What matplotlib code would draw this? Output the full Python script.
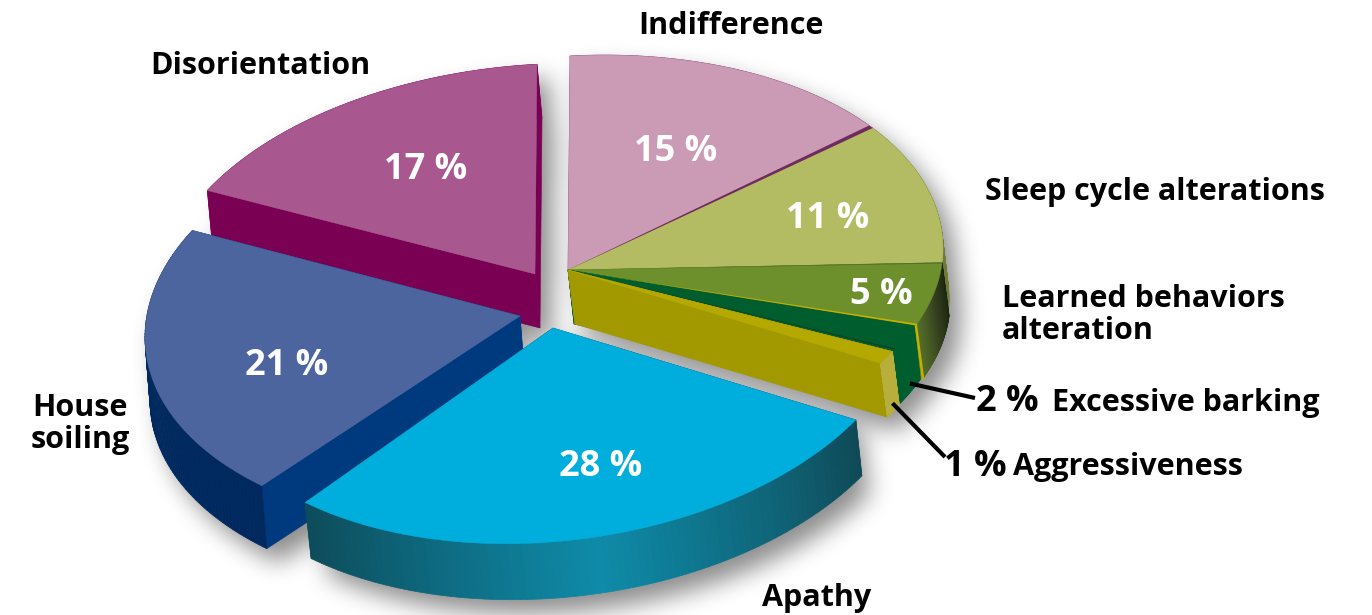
import numpy as np
import matplotlib
matplotlib.use("Agg")
import matplotlib.pyplot as plt
from matplotlib.colors import to_rgb
from matplotlib.patches import Polygon
from matplotlib.path import Path

# share of each sign, clockwise from the top
categories = ["Indifference", "Sleep cycle alterations", "Learned behaviors\nalteration",
              "Excessive barking", "Aggressiveness", "Apathy", "House\nsoiling", "Disorientation"]
shares = [15, 11, 5, 2, 1, 28, 21, 17]

top_colors = ["#CB9AB4", "#B3BC62", "#6D8F2C", "#005E2E", "#B5A800", "#00AEDD", "#4C659F", "#A9578F"]
face_colors = ["#6F2B5F", "#7F8A3E", "#5B7A2C", "#005E2E", "#A29800", "#0E4D5C", "#003A7E", "#7A0054"]
wall_colors = [["#6F2B5F"], ["#6E7A35"], ["#1C2410", "#343F1E", "#55702A"], ["#005E2E"], ["#B8AE3C"],
               ["#0F4A57", "#0E8BA9", "#0D4C5A"], ["#00295F"], ["#7A0054"]]

# projection of the pie: unit vectors for 90 and 0 degrees
U = np.array([375.0, -20.0])
V = np.array([2.0, -214.0])
apex = [(568, 270), (568, 270), (568, 270), (568, 270), (568, 270), (553, 328), (520, 316), (535, 274)]
x_scale = [1, 1, 1, 0.995, 0.99, 0.96, 1, 1]
y_scale = [1, 1, 0.94, 0.94, 0.96, 1, 1, 0.98]
u_tilt = [0, 0, 0, 0, 0, -7, 0, 0]
depth = [(6, 52), (6, 50), (7, 53), (6, 54), (7, 54), (6, 56), (5, 63), (5, 54)]

label_pos = [(731, 26), (1155, 192), (1002, 315), (1052, 403), (1013, 467), (817, 598), (80, 424), (260, 66)]
pct_pos = [(676, 152), (828, 219), (881, 295), (1007, 402), (975, 467), (601, 467), (287, 366), (426, 170)]
left_aligned = ["Learned behaviors\nalteration", "Excessive barking", "Aggressiveness"]

FONT = "Open Sans"
fig = plt.figure(figsize=(13.72, 6.15), dpi=100)
ax = fig.add_axes([0, 0, 1, 1])
ax.set_xlim(0, 1372)
ax.set_ylim(615, 0)
ax.axis("off")

bounds = np.concatenate([[0], np.cumsum(shares)]) * 3.6


def rim(i, theta):
    t = np.radians(theta)
    u = U * [x_scale[i], 1] + [0, u_tilt[i]]
    v = V * [1, y_scale[i]]
    return np.array(apex[i]) + np.outer(np.sin(t), u) + np.outer(np.cos(t), v)


def wedge(i):
    thetas = np.linspace(bounds[i], bounds[i + 1], 80)
    return np.vstack([[apex[i]], rim(i, thetas)])


def add_shadow(shift=(12, 14), passes=3, size=23):
    # soft shadow: mask of the whole pie, box-blurred and moved to the lower right
    xx, yy = np.meshgrid(np.arange(1372) + 0.5, np.arange(615) + 0.5)
    grid = np.column_stack([xx.ravel(), yy.ravel()])
    mask = np.zeros(grid.shape[0])
    for i in range(len(shares)):
        pts = wedge(i)
        for k in np.linspace(0, 1, 5):
            mask = np.maximum(mask, Path(pts + np.array(depth[i]) * k).contains_points(grid))
    mask = mask.reshape(xx.shape)
    kernel = np.ones(size) / size
    for _ in range(passes):
        mask = np.apply_along_axis(lambda r: np.convolve(r, kernel, mode="same"), 1, mask)
        mask = np.apply_along_axis(lambda c: np.convolve(c, kernel, mode="same"), 0, mask)
    moved = np.zeros_like(mask)
    moved[shift[1]:, shift[0]:] = mask[:-shift[1], :-shift[0]]
    rgba = np.zeros(mask.shape + (4,))
    rgba[..., 3] = moved * 0.45
    ax.imshow(rgba, extent=(0, 1372, 615, 0), aspect="auto", zorder=0, interpolation="bilinear")
    ax.set_xlim(0, 1372)
    ax.set_ylim(615, 0)


def draw_slice(i, z):
    d = np.array(depth[i])
    pts = wedge(i)
    # cut faces
    for theta in (bounds[i], bounds[i + 1]):
        p = rim(i, np.array([theta]))[0]
        a = np.array(apex[i])
        ax.add_patch(Polygon([a, p, p + d, a + d], fc=face_colors[i], ec=face_colors[i], lw=0.4, zorder=z))
    # outer wall, in small strips for the gradient
    stops = np.array([to_rgb(c) for c in wall_colors[i]])
    thetas = np.linspace(bounds[i], bounds[i + 1], 90)
    ring = rim(i, thetas)
    for k in range(len(thetas) - 1):
        f = k / (len(thetas) - 2) * (len(stops) - 1)
        col = [np.interp(f, np.arange(len(stops)), stops[:, c]) for c in range(3)]
        ax.add_patch(Polygon([ring[k], ring[k + 1], ring[k + 1] + d, ring[k] + d],
                             fc=col, ec=col, lw=0.5, zorder=z))
    ax.add_patch(Polygon(pts, fc=top_colors[i], ec=top_colors[i], lw=0.3, zorder=z + 0.5))


def edge_strip(i, theta, width, color, z):
    p0 = rim(i, np.array([theta]))[0]
    p1 = rim(i, np.array([theta + width]))[0]
    ax.add_patch(Polygon([apex[i], p0, p1], fc=color, ec="none", zorder=z))


add_shadow()
order = [7, 0, 1, 6, 2, 3, 4, 5]
for z, i in enumerate(order, start=1):
    draw_slice(i, z)

# thin dark and yellow seams between the small slices
edge_strip(0, bounds[1] - 0.9, 0.9, "#6F2B5F", 9)
edge_strip(1, bounds[2] - 0.25, 0.25, "#55682F", 9)
edge_strip(2, bounds[3] - 0.5, 0.5, "#C3B000", 9)
edge_strip(3, bounds[4] - 0.25, 0.25, "#17352B", 9)
p = rim(2, np.array([bounds[3]]))[0]
ax.plot([p[0], p[0] + depth[2][0]], [p[1], p[1] + depth[2][1]], color="#C3B000", lw=1.8, zorder=9)

# leader lines of the two smallest slices
for i, tip in ((3, (975, 398)), (4, (945, 457))):
    m = rim(i, np.array([(bounds[i] + bounds[i + 1]) / 2]))[0] + np.array(depth[i]) * 0.85
    ax.plot([m[0], tip[0]], [m[1], tip[1]], color="black", lw=3, solid_capstyle="butt", zorder=10)

for i, name in enumerate(categories):
    ha = "left" if name in left_aligned else "center"
    ax.text(label_pos[i][0], label_pos[i][1], name, family=FONT, weight="bold", fontsize=22,
            color="black", ha=ha, va="center", linespacing=1.05, zorder=11)
    inside = shares[i] > 2
    ax.text(pct_pos[i][0], pct_pos[i][1], f"{shares[i]} %", family=FONT, weight="bold",
            fontsize=26, color="white" if inside else "black", ha="center", va="center", zorder=11)

fig.savefig("out.png", dpi=100)
